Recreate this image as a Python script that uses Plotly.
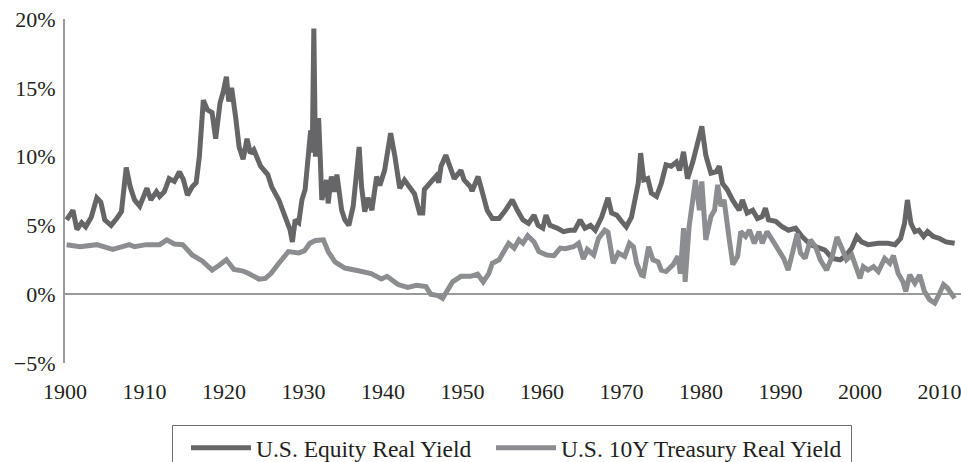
import plotly.graph_objects as go

# ---- data (year, % real yield) ----
equity_years = [1900.2, 1901.0, 1901.5, 1902.1, 1902.6, 1903.3, 1904.0, 1904.5, 1905.0, 1905.8,
                1906.5, 1907.1, 1907.7, 1908.2, 1908.75, 1909.4, 1910.3, 1910.8, 1911.5, 1911.9,
                1912.5, 1913.1, 1913.75, 1914.4, 1914.9, 1915.4, 1916.0, 1916.5, 1916.9, 1917.4,
                1917.9, 1918.5, 1918.95, 1919.5, 1919.9, 1920.3, 1920.6, 1920.96, 1921.5, 1921.9,
                1922.4, 1922.9, 1923.3, 1923.75, 1924.6, 1925.5, 1926.0, 1926.9, 1927.7, 1928.3,
                1928.6, 1928.95, 1929.4, 1929.8, 1930.2, 1930.6, 1930.9, 1931.1, 1931.3, 1931.5,
                1931.7, 1931.9, 1932.1, 1932.3, 1932.9, 1933.1, 1933.5, 1933.9, 1934.2, 1934.8,
                1935.2, 1935.7, 1936.25, 1936.7, 1937.0, 1937.3, 1937.7, 1938.1, 1938.6, 1939.2,
                1939.6, 1940.2, 1940.6, 1940.96, 1941.5, 1942.1, 1942.7, 1943.3, 1943.96, 1944.6,
                1945.0, 1945.2, 1945.8, 1946.3, 1946.7, 1947.0, 1947.3, 1947.9, 1948.5, 1948.96,
                1949.8, 1950.2, 1951.0, 1951.2, 1951.96, 1952.5, 1953.1, 1953.75, 1954.6, 1955.4,
                1956.25, 1956.9, 1957.6, 1958.3, 1959.0, 1959.5, 1960.1, 1960.5, 1961.0, 1961.9,
                1962.7, 1963.5, 1964.1, 1964.8, 1965.4, 1966.1, 1966.7, 1967.5, 1968.3, 1968.75,
                1969.4, 1970.0, 1970.6, 1971.25, 1971.5, 1972.1, 1972.4, 1972.8, 1973.3, 1973.75,
                1974.4, 1975.0, 1975.6, 1976.25, 1976.9, 1977.3, 1977.8, 1978.3, 1978.96, 1979.6,
                1980.1, 1980.6, 1981.25, 1981.9, 1982.3, 1982.7, 1983.3, 1983.96, 1984.8, 1985.2,
                1985.8, 1986.5, 1987.1, 1987.7, 1988.1, 1988.5, 1989.4, 1990.2, 1991.0, 1991.9,
                1992.7, 1993.75, 1994.8, 1995.6, 1996.5, 1997.5, 1998.3, 1998.96, 1999.6, 2000.2,
                2001.0, 2002.3, 2003.5, 2004.4, 2005.1, 2005.6, 2005.96, 2006.4, 2006.9, 2007.4,
                2008.0, 2008.5, 2009.2, 2010.0, 2010.8, 2011.9]
equity_values = [5.4, 6.1, 4.7, 5.2, 4.9, 5.6, 7.0, 6.7, 5.4, 5.0,
                 5.5, 6.0, 9.2, 7.8, 6.85, 6.4, 7.7, 6.85, 7.45, 7.1,
                 7.45, 8.4, 8.2, 8.9, 8.3, 7.2, 7.8, 8.1, 10.0, 14.1,
                 13.4, 13.2, 11.3, 13.9, 14.7, 15.8, 14.0, 15.0, 12.7, 10.7,
                 9.8, 11.3, 10.25, 10.5, 9.3, 8.7, 7.8, 6.85, 5.6, 4.7,
                 3.8, 5.4, 5.2, 6.85, 7.6, 10.5, 11.9, 10.3, 19.3, 10.0,
                 11.5, 12.8, 10.0, 6.85, 8.3, 6.6, 8.55, 7.45, 8.7, 6.1,
                 5.4, 5.0, 6.4, 8.55, 10.7, 7.8, 6.0, 7.0, 6.1, 8.55,
                 7.9, 9.0, 10.25, 11.7, 10.0, 7.7, 8.3, 7.8, 7.3, 5.9,
                 5.9, 7.6, 8.05, 8.3, 8.6, 8.1, 9.3, 10.1, 9.0, 8.4,
                 9.0, 8.3, 7.8, 7.5, 8.55, 7.2, 6.1, 5.5, 5.5, 6.1,
                 6.85, 6.1, 5.4, 5.15, 5.75, 5.0, 4.8, 5.75, 5.0, 4.8,
                 4.55, 4.65, 4.65, 5.4, 4.8, 5.0, 4.65, 5.6, 7.0, 5.9,
                 5.75, 5.3, 4.9, 5.6, 6.4, 8.05, 10.25, 8.3, 8.4, 7.35,
                 7.1, 8.05, 9.4, 9.3, 9.6, 9.0, 10.35, 8.4, 9.6, 11.2,
                 12.2, 10.1, 8.8, 8.9, 9.3, 8.05, 7.6, 6.85, 6.1, 6.85,
                 5.9, 6.1, 5.5, 5.65, 6.25, 5.4, 5.3, 4.9, 4.65, 4.8,
                 4.2, 3.6, 3.35, 3.2, 2.6, 2.5, 2.85, 3.35, 4.2, 3.8,
                 3.6, 3.7, 3.7, 3.6, 4.05, 5.15, 6.85, 5.15, 4.55, 4.65,
                 4.2, 4.55, 4.2, 4.05, 3.8, 3.7]

treasury_years = [1900.2, 1901.9, 1904.0, 1906.0, 1908.1, 1908.75, 1910.2, 1911.9, 1912.8, 1913.75,
                  1914.8, 1916.0, 1917.3, 1918.5, 1919.4, 1920.3, 1921.25, 1922.3, 1923.1, 1924.4,
                  1925.2, 1925.9, 1926.9, 1928.1, 1929.4, 1930.1, 1930.8, 1931.5, 1932.5, 1933.1,
                  1933.96, 1935.2, 1936.9, 1938.5, 1939.8, 1940.5, 1941.9, 1943.1, 1944.2, 1945.4,
                  1946.0, 1946.9, 1947.5, 1948.1, 1948.75, 1949.8, 1951.0, 1951.9, 1952.6, 1953.3,
                  1953.75, 1954.6, 1955.2, 1955.8, 1956.5, 1957.1, 1957.6, 1958.2, 1959.0, 1959.6,
                  1960.6, 1961.5, 1962.3, 1962.9, 1963.96, 1964.6, 1965.2, 1965.7, 1966.5, 1967.1,
                  1967.9, 1968.3, 1968.96, 1969.6, 1970.4, 1971.0, 1971.5, 1971.9, 1972.5, 1972.75,
                  1973.4, 1973.96, 1974.6, 1975.0, 1975.6, 1976.5, 1977.1, 1977.4, 1977.8, 1978.0,
                  1978.5, 1978.96, 1979.3, 1979.8, 1980.1, 1980.6, 1981.25, 1981.7, 1982.1, 1982.5,
                  1982.9, 1983.5, 1984.0, 1984.6, 1985.0, 1985.6, 1986.1, 1986.7, 1987.3, 1987.7,
                  1988.3, 1988.96, 1989.8, 1990.4, 1990.96, 1991.5, 1992.1, 1992.5, 1993.1, 1993.75,
                  1994.4, 1995.0, 1995.8, 1996.5, 1997.1, 1997.7, 1998.3, 1998.96, 1999.6, 2000.0,
                  2000.4, 2001.0, 2001.7, 2002.3, 2003.1, 2003.75, 2004.2, 2004.8, 2005.4, 2005.75,
                  2006.25, 2006.9, 2007.5, 2008.1, 2008.75, 2009.4, 2010.0, 2010.5, 2011.0, 2011.5,
                  2011.9]
treasury_values = [3.6, 3.45, 3.6, 3.25, 3.6, 3.45, 3.6, 3.6, 3.95, 3.65,
                   3.6, 2.85, 2.4, 1.75, 2.1, 2.5, 1.8, 1.7, 1.5, 1.1,
                   1.15, 1.5, 2.25, 3.1, 3.0, 3.15, 3.7, 3.9, 3.95, 3.1,
                   2.35, 1.9, 1.7, 1.5, 1.1, 1.3, 0.7, 0.5, 0.65, 0.55,
                   0.0, -0.1, -0.3, 0.2, 0.9, 1.3, 1.3, 1.45, 0.9, 1.5,
                   2.25, 2.5, 3.1, 3.7, 3.35, 3.95, 3.7, 4.25, 3.8, 3.1,
                   2.85, 2.8, 3.35, 3.3, 3.45, 3.7, 2.55, 3.25, 2.85, 4.05,
                   4.65, 4.5, 2.25, 3.0, 2.75, 3.7, 3.45, 2.25, 1.4, 1.35,
                   3.45, 2.5, 2.35, 1.75, 1.65, 2.15, 2.75, 1.5, 4.8, 0.9,
                   4.9, 6.85, 8.3, 6.1, 8.2, 3.95, 5.65, 6.1, 7.95, 6.4,
                   6.85, 4.2, 2.15, 2.75, 4.55, 4.2, 4.65, 3.7, 4.55, 3.7,
                   4.55, 3.95, 3.1, 2.6, 1.75, 3.2, 4.4, 3.0, 2.6, 3.95,
                   3.45, 2.5, 1.75, 2.75, 4.15, 3.35, 2.5, 2.85, 1.75, 1.15,
                   2.0, 1.75, 2.0, 1.65, 2.6, 2.25, 2.8, 1.5, 0.9, 0.2,
                   1.4, 0.8, 1.4, 0.2, -0.4, -0.65, 0.05, 0.7, 0.45, -0.05,
                   -0.3]

x_tick_values = [1900, 1910, 1920, 1930, 1940, 1950, 1960, 1970, 1980, 1990, 2000, 2010]
x_tick_labels = [str(v) for v in x_tick_values]
y_tick_values = [-5, 0, 5, 10, 15, 20]
y_tick_labels = ["\u22125%", "0%", "5%", "10%", "15%", "20%"]

series_names = ["U.S. Equity Real Yield", "U.S. 10Y Treasury Real Yield"]

FONT = "Liberation Serif, Times New Roman, serif"
TXT = "#231f20"

# Target plot area in window pixels: x 65..961, y 19..363 (figure fills the window).
FIG_W, FIG_H = 961, 462
PL, PR, PT, PB = 65, 961, 19, 363

def px_x(p):
    return (p - PL) / float(PR - PL)

def px_y(p):
    return (PB - p) / float(PB - PT)

fig = go.Figure()
fig.add_trace(go.Scatter(x=equity_years, y=equity_values, mode="lines",
                         name=series_names[0], legend="legend",
                         line=dict(color="#666668", width=5)))
fig.add_trace(go.Scatter(x=treasury_years, y=treasury_values, mode="lines",
                         name=series_names[1], legend="legend2",
                         line=dict(color="#8c8d90", width=5)))

legend_common = dict(orientation="h", yanchor="middle", xanchor="left",
                     borderwidth=0, bgcolor="rgba(0,0,0,0)", itemwidth=60,
                     font=dict(family=FONT, size=23.5, color=TXT))

fig.update_layout(
    width=FIG_W, height=FIG_H,
    margin=dict(l=PL, r=FIG_W - PR, t=PT, b=FIG_H - PB, pad=0, autoexpand=False),
    paper_bgcolor="white", plot_bgcolor="white",
    font=dict(family=FONT, size=22, color=TXT),
    showlegend=True,
    legend=dict(x=px_x(186), y=px_y(448), **legend_common),
    legend2=dict(x=px_x(491), y=px_y(448), **legend_common),
    shapes=[dict(type="rect", xref="paper", yref="paper",
                 x0=px_x(172.5), x1=px_x(851.5), y0=px_y(425.5), y1=px_y(470),
                 line=dict(color="#6e6e6e", width=1), fillcolor="rgba(0,0,0,0)",
                 layer="above")],
    xaxis=dict(range=[1900, 2012.7], tickmode="array", tickvals=x_tick_values,
               ticktext=x_tick_labels, showgrid=False, showline=False, zeroline=False,
               automargin=False, ticklabeloverflow="allow",
               ticks="outside", ticklen=9, tickcolor="rgba(0,0,0,0)"),
    yaxis=dict(range=[-5, 20], tickmode="array", tickvals=y_tick_values,
               ticktext=y_tick_labels, showgrid=False, showline=True,
               linecolor="#9a9a9c", linewidth=2, zeroline=True,
               zerolinecolor="#9a9a9c", zerolinewidth=2, automargin=False,
               ticklabeloverflow="allow",
               ticks="outside", ticklen=3, tickcolor="rgba(0,0,0,0)"),
)

# remove the browser's default 8px page margin so the figure fills the window
fig.write_html("out.html",
               config={"displayModeBar": False},
               post_script="document.body.style.margin='0';document.body.style.overflow='hidden';")
